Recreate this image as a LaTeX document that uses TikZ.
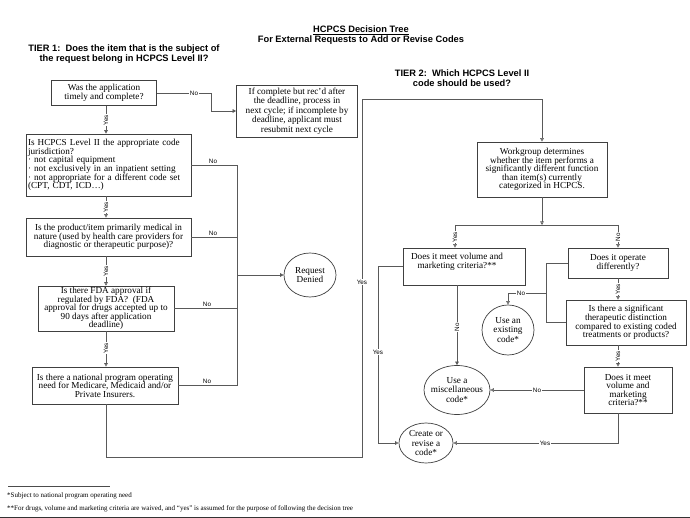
\documentclass[tikz,border=0pt]{standalone}
\usepackage{fontspec}
\setmainfont{Liberation Serif}
\setsansfont{Liberation Sans}
\usetikzlibrary{arrows.meta,shapes.geometric}
\begin{document}
\begin{tikzpicture}[x=1pt,y=-1pt,
  box/.style={draw=black!75, line width=0.7pt, font=\fontsize{9.2}{8.6}\selectfont, align=center, inner sep=1pt},
  oval/.style={draw=black!75, line width=0.7pt, ellipse, inner sep=0pt},
  otext/.style={font=\fontsize{9.2}{9.4}\selectfont, align=center, inner sep=0pt},
  lbl/.style={font=\sffamily\fontsize{6.3}{6.3}\selectfont, fill=white, inner sep=0.6pt},
  lblt/.style={font=\sffamily\fontsize{6.3}{6.3}\selectfont, inner sep=0.6pt, anchor=south},
  conn/.style={draw=black!65, line width=0.7pt},
  oa/.style={-{Triangle[open,length=3.6pt,width=3.6pt]}},
  fa/.style={-{Triangle[length=3.6pt,width=3.6pt]}},
  head/.style={font=\sffamily\bfseries\fontsize{9.3}{10.2}\selectfont, align=center, inner sep=0pt},
  foot/.style={font=\fontsize{7}{8}\selectfont, anchor=west, inner sep=0pt}]
\useasboundingbox (0,0) rectangle (690,518);
\fill[white] (0,0) rectangle (690,518);

% headings
\node[head] (title) at (361,35) {\underline{HCPCS Decision Tree}\\For External Requests to Add or Revise Codes};
\node[head] (tier1) at (124,54) {TIER 1:\ \ Does the item that is the subject of\\the request belong in HCPCS Level II?};
\node[head] (tier2) at (462,78) {TIER 2:\ \ Which HCPCS Level II\\code should be used?};

% helper x positions
\coordinate (tx) at (106,0);
\coordinate (xY) at (455,0);
\coordinate (xO) at (618,0);

% tier 1 boxes
\node[box, minimum width=105pt, minimum height=25pt] (A) at (104,93) {Was the application\\timely and complete?};
\node[box, minimum width=121pt, minimum height=52pt, font=\fontsize{9.2}{9.4}\selectfont] (B) at (297,111) {If complete but rec'd after\\the deadline, process in\\next cycle; if incomplete by\\deadline, applicant must\\resubmit next cycle};
\node[box, minimum width=165pt, minimum height=62pt, align=left, text width=161pt] (C) at (108.5,165) {Is HCPCS Level II the appropriate code\\jurisdiction?\\· not capital equipment\\· not exclusively in an inpatient setting\\· not appropriate for a different code set\\(CPT, CDT, ICD…)};
\node[box, minimum width=165pt, minimum height=38pt] (D) at (108.5,237) {Is the product/item primarily medical in\\nature (used by health care providers for\\diagnostic or therapeutic purpose)?};
\node[box, minimum width=136pt, minimum height=43pt] (E) at (106,308.5) {Is there FDA approval if\\regulated by FDA?\ \ (FDA\\approval for drugs accepted up to\\90 days after application\\deadline)};
\node[box, minimum width=146pt, minimum height=37pt] (F) at (105,385.5) {Is there a national program operating\\need for Medicare, Medicaid and/or\\Private Insurers.};

\node[oval, minimum width=52pt, minimum height=44pt] (RD) at (310,275) {};
\node[otext] (RDt) at (310,275) {Request\\Denied};

% tier 1 connectors
\draw[conn,fa] (A.east) -- (211,93) -- (211,111) -- (B.west);
\node[lbl] (nA) at (194,93) {No};
\draw[conn,fa] (A.south -| tx) -- (C.north -| tx);
\node[lbl, rotate=90] (yA) at (106,120) {Yes};
\draw[conn,oa] (C.south -| tx) -- (D.north -| tx);
\node[lbl, rotate=90] (yC) at (106,207) {Yes};
\draw[conn,oa] (D.south -| tx) -- (E.north -| tx);
\node[lbl, rotate=90] (yD) at (106,271) {Yes};
\draw[conn,oa] (E.south -| tx) -- (F.north -| tx);
\node[lbl, rotate=90] (yE) at (106,348) {Yes};

\draw[conn] (C.east) -- (237,165) -- (237,385.5) -- (F.east);
\draw[conn] (D.east) -- (237,237);
\draw[conn] (E.east) -- (237,308.5);
\draw[conn,fa] (237,275) -- (RD.west);
\node[lblt] (nC) at (213,164) {No};
\node[lblt] (nD) at (213,236) {No};
\node[lblt] (nE) at (207,307.5) {No};
\node[lblt] (nF) at (207,384.5) {No};

% tier 2 boxes
\node[box, minimum width=130pt, minimum height=55pt] (W) at (542,169.5) {Workgroup determines\\whether the item performs a\\significantly different function\\than item(s) currently\\categorized in HCPCS.};
\node[box, minimum width=122pt, minimum height=37pt] (V1) at (464,266.5) {};
\node[otext, font=\fontsize{9.2}{8.8}\selectfont] (V1t) at (457,262) {Does it meet volume and\\marketing criteria?**};
\node[box, minimum width=100pt, minimum height=30pt] (O) at (618,263) {Does it operate\\differently?};
\node[box, minimum width=120pt, minimum height=45pt] (S) at (626,322.5) {Is there a significant\\therapeutic distinction\\compared to existing coded\\treatments or products?};
\node[box, minimum width=88pt, minimum height=46pt] (V2) at (628,390) {Does it meet\\volume and\\marketing\\criteria?**};

\node[oval, minimum width=52pt, minimum height=50pt] (U) at (508,330) {};
\node[otext] (Ut) at (508,330) {Use an\\existing\\code*};
\node[oval, minimum width=66pt, minimum height=49pt] (M) at (457,390) {};
\node[otext] (Mt) at (457,390) {Use a\\miscellaneous\\code*};
\node[oval, minimum width=54pt, minimum height=40pt] (Cr) at (426,443) {};
\node[otext] (Crt) at (426,443) {Create or\\revise a\\code*};

% tier 2 connectors
\draw[conn,oa] (F.south -| tx) -- (106,457) -- (362,457) -- (362,99) -- (542,99) -- (W.north);
\node[lbl] (yF) at (362,282) {Yes};
\draw[conn,oa] (W.south) -- (542,225);
\draw[conn] (455,225) -- (618,225);
\draw[conn,oa] (455,225) -- (V1.north -| xY);
\node[lbl, rotate=90] (yW) at (455,237) {Yes};
\draw[conn,oa] (618,225) -- (O.north -| xO);
\node[lbl, rotate=90] (nW) at (618,237) {No};

\draw[conn,fa] (V1t |- V1.south) -- (V1t |- M.north);
\node[lbl, rotate=90] (nV1) at (457,327) {No};
\draw[conn,oa] (V1.west) -- (378,266.5) -- (378,443) -- (Cr.west);
\node[lbl] (yV1) at (378,352) {Yes};

\draw[conn] (O.west) -- (546,263) -- (546,322.5) -- (S.west);
\draw[conn,oa] (546,293) -- (508,293) -- (U.north);
\node[lbl] (nO) at (521,293) {No};
\draw[conn,oa] (O.south -| xO) -- (S.north -| xO);
\node[lbl, rotate=90] (yO) at (618,289) {Yes};
\draw[conn,oa] (S.south -| xO) -- (V2.north -| xO);
\node[lbl, rotate=90] (yS) at (618,356) {Yes};
\draw[conn,oa] (V2.west) -- (M.east);
\node[lbl] (nV2) at (537,390) {No};
\draw[conn,oa] (V2.south -| xO) -- (618,443) -- (Cr.east);
\node[lbl] (yV2) at (545,443) {Yes};

% footnotes
\draw[black!70, line width=0.9pt] (8,486) -- (110,486);
\node[foot] (f1) at (7,496) {*Subject to national program operating need};
\node[foot] (f2) at (7,509) {**For drugs, volume and marketing criteria are waived, and ``yes'' is assumed for the purpose of following the decision tree};
\fill[black!80] (0,516.5) rectangle (690,518);
\end{tikzpicture}
\end{document}
